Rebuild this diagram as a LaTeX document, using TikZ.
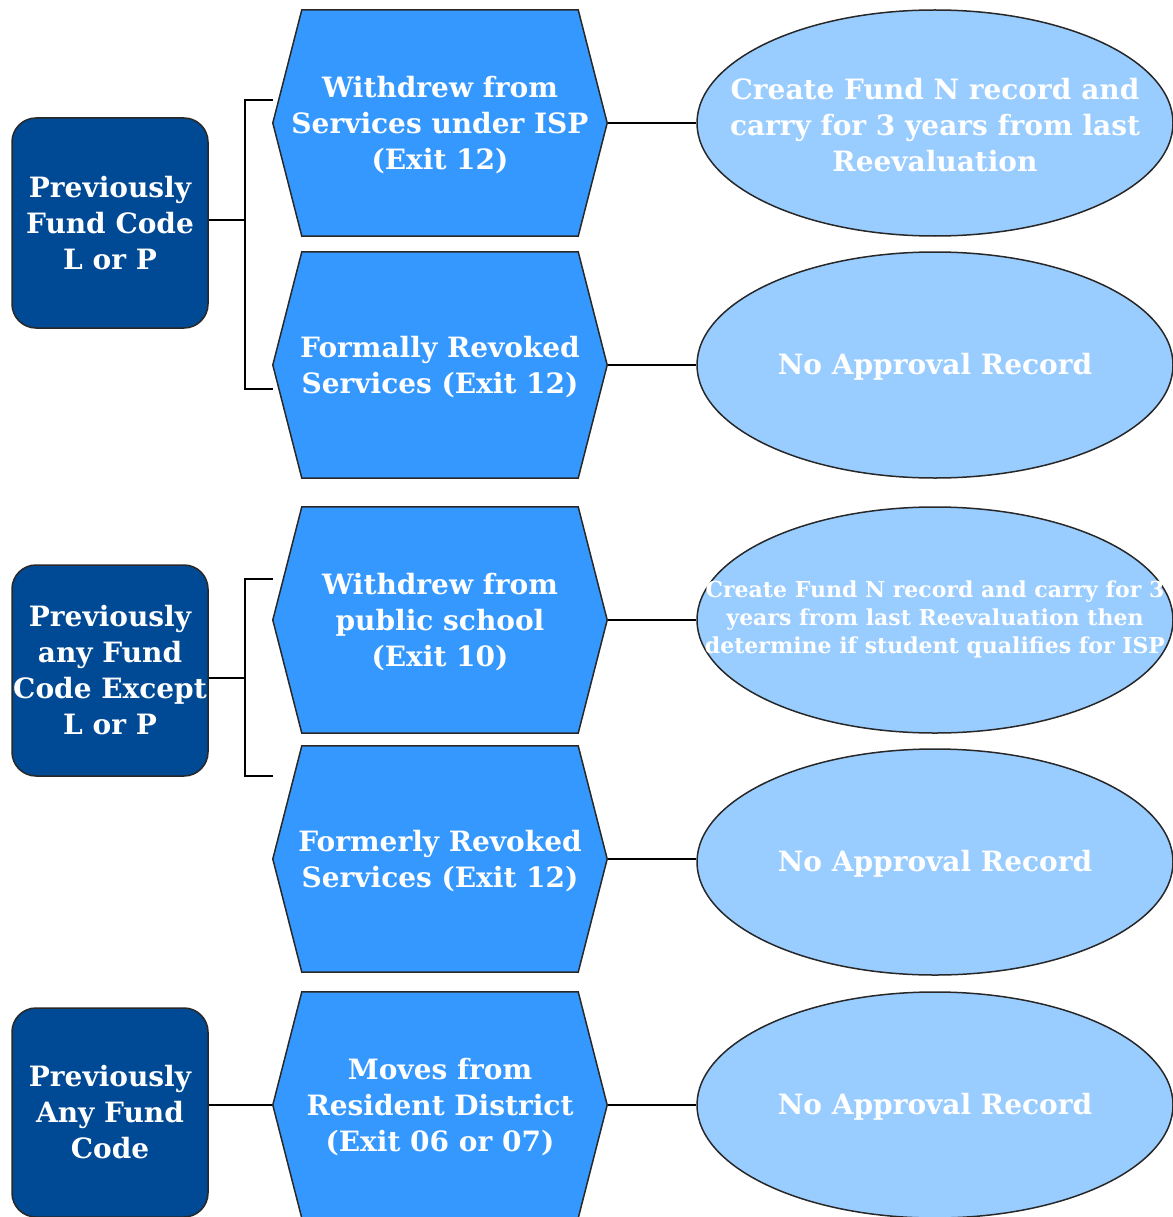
\documentclass[tikz,border=0pt]{standalone}
\usepackage{fontspec}
\setmainfont{DejaVu Serif}
\usetikzlibrary{shapes.geometric}
\definecolor{darkblue}{RGB}{0,73,148}
\definecolor{hexblue}{RGB}{53,152,255}
\definecolor{lightblue}{RGB}{153,204,255}
\definecolor{edgegray}{RGB}{40,40,40}
\pgfdeclarelayer{lines}
\pgfdeclarelayer{shapes}
\pgfsetlayers{lines,shapes,main}
\begin{document}
\begin{tikzpicture}[x=1pt,y=-1pt,
  txt/.style={text=white, font=\bfseries\fontsize{28}{36}\selectfont, align=center, inner sep=0pt},
  smalltxt/.style={txt, font=\bfseries\fontsize{22}{28}\selectfont},
  startbox/.style={txt, draw=edgegray, line width=1.5pt, fill=darkblue, rounded corners=24pt, minimum width=196pt, minimum height=210pt},
  hexarea/.style={minimum width=334pt, minimum height=226pt, inner sep=0pt},
  hexshape/.style={draw=edgegray, line width=1.5pt, fill=hexblue, line join=miter},
  oval/.style={ellipse, draw=edgegray, line width=1.5pt, fill=lightblue, minimum width=476pt, minimum height=226pt, inner sep=0pt},
  link/.style={draw=black, line width=2pt}]
\useasboundingbox (0,0) rectangle (1172,1217);

% start boxes
\node[startbox] (s1) at (110,223) {Previously\\Fund Code\\L or P};
\node[startbox, minimum height=211pt] (s2) at (110,670.5) {Previously\\any Fund\\Code Except\\L or P};
\node[startbox, minimum height=209pt] (s3) at (110,1112.5) {Previously\\Any Fund\\Code};

% hexagon areas
\node[hexarea] (h1) at (440,123) {};
\node[hexarea] (h2) at (440,365) {};
\node[hexarea] (h3) at (440,620) {};
\node[hexarea] (h4) at (440,859) {};
\node[hexarea] (h5) at (440,1105) {};
\node[txt] (ht1) at ([yshift=-2pt]h1.center) {Withdrew from\\Services under ISP\\(Exit 12)};
\node[txt] (ht2) at ([yshift=-2pt]h2.center) {Formally Revoked\\Services (Exit 12)};
\node[txt] (ht3) at ([yshift=-2pt]h3.center) {Withdrew from\\public school\\(Exit 10)};
\node[txt] (ht4) at ([yshift=-2pt]h4.center) {Formerly Revoked\\Services (Exit 12)};
\node[txt] (ht5) at ([yshift=-2pt]h5.center) {Moves from\\Resident District\\(Exit 06 or 07)};

\begin{pgfonlayer}{shapes}
\foreach \n in {h1,h2,h3,h4,h5}
  \draw[hexshape] (\n.west) -- ([xshift=29pt]\n.north west) -- ([xshift=-29pt]\n.north east)
    -- (\n.east) -- ([xshift=-29pt]\n.south east) -- ([xshift=29pt]\n.south west) -- cycle;
\end{pgfonlayer}

% ellipses
\node[oval] (e1) at (935,123) {};
\node[oval] (e2) at (935,365) {};
\node[oval] (e3) at (935,620) {};
\node[oval] (e4) at (935,862) {};
\node[oval] (e5) at (935,1105) {};
\node[txt] (t1) at ([yshift=-2pt]e1.center) {Create Fund N record and\\carry for 3 years from last\\Reevaluation};
\node[txt] (t2) at ([yshift=-2pt]e2.center) {No Approval Record};
\node[smalltxt] (t3) at ([yshift=1pt]e3.center) {Create Fund N record and carry for 3\\years from last Reevaluation then\\determine if student qualifies for ISP};
\node[txt] (t4) at ([yshift=-2pt]e4.center) {No Approval Record};
\node[txt] (t5) at ([yshift=-2pt]e5.center) {No Approval Record};

% connectors
\begin{pgfonlayer}{lines}
\draw[link] ([yshift=3pt]s1.east) -- ++(36,0) coordinate (j1);
\draw[link] (j1) |- ([yshift=23pt]h1.west);
\draw[link] (j1) |- ([yshift=-24pt]h2.west);
\draw[link] ([yshift=-7pt]s2.east) -- ++(36,0) coordinate (j2);
\draw[link] (j2) |- ([yshift=41pt]h3.west);
\draw[link] (j2) |- ([yshift=83pt]h4.west);
\draw[link] (s3.east |- h5.west) -- (h5.west);
\draw[link] (h1.east) -- (e1.west);
\draw[link] (h2.east) -- (e2.west);
\draw[link] (h3.east) -- (e3.west);
\draw[link] (h4.east) -- (h4.east -| e4.west);
\draw[link] (h5.east) -- (e5.west);
\end{pgfonlayer}
\end{tikzpicture}
\end{document}
